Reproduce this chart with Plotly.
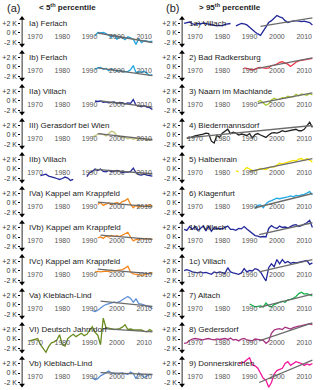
import plotly.graph_objects as go

W, H = 320, 390

# ---- left column: < 5th percentile ----
labels_a = ["Ia) Ferlach", "Ib) Ferlach", "IIa) Villach", "III) Gerasdorf bei Wien",
            "IIb) Villach", "IVa) Kappel am Krappfeld", "IVb) Kappel am Krappfeld",
            "IVc) Kappel am Krappfeld", "Va) Kleblach-Lind", "VI) Deutsch Jahrndorf",
            "Vb) Kleblach-Lind"]
start_a = [1992, 1992, 1992, 1991, 1972, 1993, 1993, 1992, 1991, 1968, 1991]
values_a = [
    [-0.6, 0.1, 0.0, 0.1, -0.1, -0.6, -0.9, -0.4, -1.3, -0.8, -1.0, -1.4, -0.8, -1.0,
     -1.3, -2.4, -1.2, -2.0, -1.6, -1.7, -1.8, -1.7],
    [-0.5, -0.2, -0.1, -0.5, -0.3, -0.8, -0.4, -0.6, -0.9, -0.7, -0.8, -1.0, -0.9, -0.6,
     0.3, -1.2, -1.0, -1.1, -0.9, -1.4, -1.8, -1.6],
    [0.0, -0.1, 0.0, -0.3, -0.2, -0.4, -0.3, -0.2, -0.5, -0.3, -0.4, -0.6, -0.4, -0.5,
     0.3, -0.9, -1.0, -1.2, -1.0, -1.3, -1.4, -1.8],
    [-0.4, -0.2, 0.2, 0.3, 0.1, -0.2, 0.3, 0.8, 0.6, -0.2, -0.3, -0.6, -0.5, -0.8,
     -0.6, -0.9, -0.7, -0.9, -0.8, -0.7, -1.2, -0.9, -1.0],
    [-1.4, -1.2, -1.1, -1.5, -1.6, -1.8, -2.0, -2.2, -2.0, -1.7, -1.9, -2.4, -2.2,
     None, None, None, None,
     -1.6, -0.8, -0.5, 0.0, -0.3, 0.0, -0.5, -0.6, -0.3, -0.6, -0.5, -0.3, -0.5, -0.8,
     -0.6, -0.7, -0.5, 0.2, -0.8, -1.2, -1.3, -1.1, -1.3, -1.4, -1.5],
    [-0.3, 0.1, -0.5, -0.2, 0.0, -0.3, -0.1, 0.1, -0.2, 0.3, 0.5, 0.9, -0.3, -1.0,
     -0.5, -0.9, -0.6, -0.8, -0.5, -0.4, -0.6],
    [-0.2, 0.0, -0.3, 0.2, 0.0, 0.3, 0.1, 0.3, 0.1, 0.4, 0.6, 1.0, 0.0, -0.8,
     -0.5, -0.6, -0.3, -0.5, -0.3, -0.4, -0.5],
    [-0.2, -0.1, -0.2, -0.1, 0.0, -0.1, 0.1, 0.0, 0.1, 0.2, 0.3, 0.6, 1.0, -0.2,
     -0.6, -0.7, -0.8, -0.9, -0.8, -0.6, -0.4, -0.3],
    [-1.2, -1.4, -1.1, -0.6, -0.2, 0.1, 0.3, 0.4, 0.6, 0.5, 0.7, 1.1, 1.4, 1.8,
     1.4, 0.6, 1.3, 0.3, 0.2, 0.0, -0.2, -0.4, -0.8],
    [-0.4, -0.2, 0.0, 0.1, -1.2, -2.0, -2.8, -1.6, -0.8, -0.6, -0.2, 0.9, -1.2, -1.5,
     0.1, 0.6, 1.0, 0.5, 0.8, 1.2, 0.7, 1.0, 1.8, 2.6, 1.4, 0.8, -1.2, 4.4, 2.4, 2.3,
     2.2, 2.0, 2.1, 2.2, 2.5, 3.0, 2.0, 2.1, 1.9, 1.9, 1.8, 1.9, 1.6, 1.5, 2.0, 1.6],
    [-1.0, -1.4, -1.2, -0.6, -0.3, 0.0, 0.4, 0.0, -0.1, -0.2, -0.1, 0.0, -0.2, -0.3,
     0.2, -0.1, -1.2, 0.0, -0.4, -1.0, -0.6, -0.3, -0.4],
]
trend_years_a = [[1993, 2013], [1993, 2013], [1994, 2013], [1993, 2013], [1992, 2013],
                 [1993, 2013], [1994, 2013], [1993, 2013], [1994, 2013], [1995, 2013],
                 [1994, 2013]]
trend_vals_a = [[0.0, -2.0], [-0.2, -1.8], [0.0, -1.3], [0.3, -1.0], [-0.1, -1.0],
                [0.2, -0.8], [0.4, -0.5], [0.4, -0.6], [0.8, -0.3], [2.2, 1.5],
                [0.1, -0.3]]
colors_a = ["#1ea5e3", "#1ea5e3", "#23299a", "#c4c47c", "#23299a", "#f3881f",
            "#f3881f", "#f3881f", "#5d8fd6", "#6a8c1e", "#5d8fd6"]

# ---- right column: > 95th percentile ----
labels_b = ["1a) Villach", "2) Bad Radkersburg", "3) Naarn im Machlande",
            "4) Biedermannsdorf", "5) Halbenrain", "6) Klagenfurt", "1b) Villach",
            "1c) Villach", "7) Altach", "8) Gedersdorf", "9) Donnerskirchen"]
start_b = [1966, 1988, 1993, 1967, 1985, 1992, 1966, 1966, 1990, 1966, 1986]
values_b = [
    [2.0, 2.2, 2.3, 1.9, 1.8, 2.0, 1.9, 2.1, 2.0, 1.8, 1.7, 1.6, 1.5, 1.6, 1.5, 1.8,
     1.9, 2.0, None,
     1.5, 1.8, 2.0, 1.9, 1.7, 1.2, 0.6, 0.2, -0.2, -0.5, 0.4, 1.4, 2.2, 2.6, 3.2, 3.7,
     3.4, 3.2, 2.6, 2.2, 2.4, 2.5, 2.6, 2.5, 2.4, 2.5, 2.4, 2.2, 1.7],
    [-0.2, -0.3, -0.4, -0.6, -0.5, -0.2, -0.1, -0.2, -0.3, -0.2, 0.3, 0.4, 0.6, 1.0,
     1.1, 0.8, 0.6, 0.1, 0.6, 1.0, 1.3, 1.4, 1.5, 1.6, 1.7, 1.8],
    [-0.2, 0.1, -0.4, -0.9, -0.6, 0.2, 0.6, 0.3, 0.4, 0.7, 0.6, 1.0, 0.8, 0.9, 1.4,
     1.1, 1.5, 1.3, 1.2, 1.6, 1.3],
    [-0.7, -0.6, -0.4, -0.2, -0.1, 0.1, 0.2, 0.4, 0.3, -1.3, -1.7, -0.1, -0.5, 0.4,
     0.8, 1.2, 0.3, 0.6, 0.4, 0.0, 0.2, 0.1, -0.1, 0.3, -0.6, 0.1, 0.3, 0.0, -0.2,
     -0.5, 0.0, 0.4, 0.5, 0.4, 0.6, 0.9, 0.7, 0.8, 1.0, 1.1, 1.2, 0.9, 0.9, 1.2, 1.9,
     2.7, 1.6],
    [-0.4, -0.6, None, -0.2, 0.3, 0.0, -0.3, -0.4, -0.2, 0.1, 0.0, -0.1, 0.2, 0.5,
     0.4, 0.8, 1.2, 1.1, 1.3, 1.5, 1.6, 1.8, 1.7, 2.1, 2.2, 1.8, 2.2, 1.9, 1.5],
    [-1.0, -0.5, -0.4, -1.0, -0.2, 0.3, 0.5, 0.8, 1.0, 0.9, 1.0, 1.2, 1.3, 1.5, 1.3,
     1.6, 1.5, 1.7, 1.8, 2.1, 2.4, 1.7],
    [1.6, 1.4, 2.2, 1.6, 2.2, 1.4, 1.8, 2.3, 1.3, 2.3, 1.2, 2.0, 1.7, 1.8, 1.7, 2.0,
     2.3, 1.6, 1.6, 1.4, 1.8, 1.7, 2.2, 1.7, 1.2, 0.6, 0.3, 0.2, 0.0, 0.1, 0.0, 1.8,
     2.4, 2.0, 1.8, 2.3, 2.0, 2.1, 1.9, 2.2, 2.5, 2.6, 2.2, 2.4, 2.7, 3.0, 3.5, 2.0],
    [0.1, 0.3, 0.1, -0.2, -0.3, -0.4, -0.2, -0.4, -0.3, -0.5, -0.7, -0.2, -0.4, -0.2,
     -0.3, -0.5, 0.7, -0.2, -0.4, -0.5, -0.7, -0.4, 0.5, -0.2, 0.1, 0.0, 0.5, 0.3,
     -0.2, -1.2, -2.1, 0.7, 1.5, 0.9, 2.4, 1.5, 2.4, 1.7, 2.0, 1.6, 1.8, 1.7, 1.8,
     1.9, 2.0, 2.2, 1.4, 1.7],
    [0.2, -0.1, -0.4, -0.3, -0.2, -0.4, 0.4, -0.2, -0.4, 0.1, 0.3, 0.6, 0.8, 0.6,
     1.1, 1.2, 1.4, 1.8, 2.4, 2.7, 2.3, 2.4, 2.1, 1.9],
    [-0.9, -0.8, -0.3, 0.0, 0.1, 0.0, -0.1, -0.2, 0.0, 0.1, -0.1, -0.2, 0.0, -0.1,
     0.0, 0.1, -0.1, 0.2, -0.2, -0.1, -0.4, 0.0, 0.1, -0.2, -0.3, -0.4, 0.0, -0.1,
     -0.2, -0.3, -0.9, -0.5, 1.2, 1.9, 2.1, 2.2, 2.0, 2.5, 2.3, 2.1, 2.4, 2.6, 2.7,
     2.8, 2.9, 3.0, 3.2, 3.0],
    [2.0, 2.1, 2.3, 2.8, 3.2, 1.7, 1.5, 1.0, 0.0, -1.1, -1.5, -3.0, -2.0, -0.2, 0.5,
     0.8, 1.0, 2.0, 2.4, 1.6, 2.0, 2.4, 2.2, 2.0, 1.6, 1.9, 1.7, 2.0],
]
trend_years_b = [[1994, 2013], [1993, 2013], [1993, 2013], [1967, 2013], [1990, 2013],
                 [1992, 2013], [1993.5, 2013], [1993.5, 2013], [1993.5, 2013],
                 [1993.5, 2013], [1993.5, 2013]]
trend_vals_b = [[1.4, 3.2], [-0.3, 1.9], [-0.5, 1.7], [-0.6, 2.0], [-0.5, 2.2],
                [-1.0, 2.0], [0.5, 3.0], [-0.2, 2.4], [-0.5, 2.3], [-0.4, 3.4],
                [-2.0, 2.7]]
colors_b = ["#23299a", "#ee3446", "#a5c92b", "#222222", "#f4e200", "#1ea9e6",
            "#23299a", "#23299a", "#16b14a", "#a8317f", "#f0189a"]

year_ticks = [1970, 1980, 1990, 2000, 2010]
k_ticks = [-2, 0, 2]
k_text = ["-2 K", "0 K", "+2 K"]

FONT = "Liberation Sans, Arial, sans-serif"
X0, X1 = 1965.0, 2014.5      # x range of every panel
PX_YR = 2.73                 # pixels per year
Y0, Y1 = -3.5, 4.5           # y range of every panel
PX_K = 4.75                  # pixels per kelvin
PITCH = 34.0                 # vertical distance between panels
TREND = "#6b6b6b"

fig = go.Figure()
layout = {}
annotations = []

columns = [
    (labels_a, start_a, values_a, trend_years_a, trend_vals_a, colors_a),
    (labels_b, start_b, values_b, trend_years_b, trend_vals_b, colors_b),
]

n = 0
for c, (labels, starts, values, tyears, tvals, colors) in enumerate(columns):
    left_px = c * 160 + 35 + (X0 - 1970) * PX_YR
    right_px = c * 160 + 35 + (X1 - 1970) * PX_YR
    for i in range(len(labels)):
        n += 1
        xa = "x" if n == 1 else f"x{n}"
        ya = "y" if n == 1 else f"y{n}"
        zero_px = 33 + PITCH * i
        top_px = zero_px - Y1 * PX_K
        bot_px = zero_px - Y0 * PX_K

        layout["xaxis" if n == 1 else f"xaxis{n}"] = dict(
            domain=[left_px / W, right_px / W], range=[X0, X1],
            anchor="free", position=(H - (zero_px - 2.5)) / H,
            tickvals=year_ticks, ticks="", showline=False, showgrid=False,
            zeroline=False, tickfont=dict(size=7, color="#555555", family=FONT),
        )
        layout["yaxis" if n == 1 else f"yaxis{n}"] = dict(
            domain=[(H - bot_px) / H, (H - top_px) / H], range=[Y0, Y1],
            anchor=xa, tickvals=k_ticks, ticktext=k_text, ticks="outside",
            ticklen=2, tickcolor="#000000", showline=False, showgrid=False,
            zeroline=False, tickfont=dict(size=7, color="#333333", family=FONT),
        )

        # y axis with arrow heads
        fig.add_trace(go.Scatter(
            x=[X0 + 0.25, X0 + 0.25], y=[-2.5, 3.05], xaxis=xa, yaxis=ya,
            mode="lines+markers", line=dict(color="#000000", width=1),
            marker=dict(symbol=["triangle-down", "triangle-up"], size=5, color="#000000"),
            cliponaxis=False, hoverinfo="skip", showlegend=False,
        ))

        yrs = list(range(starts[i], starts[i] + len(values[i])))
        fig.add_trace(go.Scatter(
            x=yrs, y=values[i], xaxis=xa, yaxis=ya, mode="lines",
            line=dict(color=colors[i], width=1.3), connectgaps=False, showlegend=False,
        ))
        fig.add_trace(go.Scatter(
            x=tyears[i], y=tvals[i], xaxis=xa, yaxis=ya, mode="lines",
            line=dict(color=TREND, width=1.3), showlegend=False,
        ))

        annotations.append(dict(
            text=labels[i], xref="paper", yref="paper",
            x=(c * 160 + 27) / W, y=(H - (zero_px - 9.5)) / H,
            xanchor="left", yanchor="middle", showarrow=False,
            font=dict(size=8, color="#222222", family=FONT),
        ))

title_font = dict(size=11, color="#222222", family=FONT)
sub_font = dict(size=8, color="#222222", family=FONT)
annotations += [
    dict(text="(a)", x=5 / W, y=(H - 8) / H, font=title_font),
    dict(text="<b>< 5<sup>th</sup> percentile</b>", x=37 / W, y=(H - 7) / H, font=sub_font),
    dict(text="(b)", x=164 / W, y=(H - 8) / H, font=title_font),
    dict(text="<b>> 95<sup>th</sup> percentile</b>", x=197 / W, y=(H - 7) / H, font=sub_font),
]
for a in annotations[-4:]:
    a.update(xref="paper", yref="paper", xanchor="left", yanchor="middle", showarrow=False)

fig.update_layout(
    width=W, height=H, margin=dict(l=0, r=0, t=0, b=0),
    paper_bgcolor="white", plot_bgcolor="rgba(0,0,0,0)",
    annotations=annotations, showlegend=False, **layout,
)

# the page has a default body margin; drop it so the figure sits at the top-left
fig.write_html("out.html", config={"displayModeBar": False},
               post_script="document.body.style.margin='0';")
